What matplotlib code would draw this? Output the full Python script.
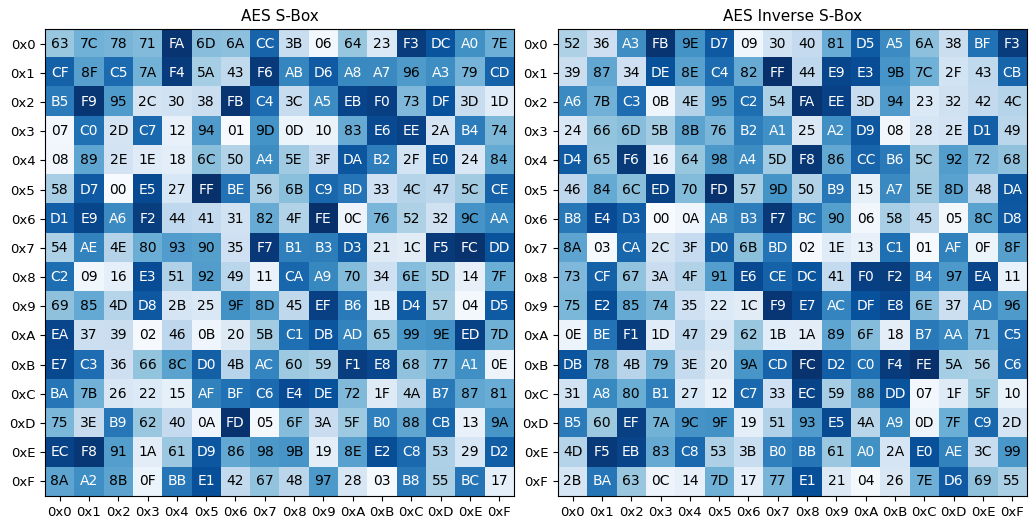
import numpy as np
import matplotlib.pyplot as plt

# substitution tables, one hex string per row
sbox_rows = [
    "63 7C 78 71 FA 6D 6A CC 3B 06 64 23 F3 DC A0 7E",
    "CF 8F C5 7A F4 5A 43 F6 AB D6 A8 A7 96 A3 79 CD",
    "B5 F9 95 2C 30 38 FB C4 3C A5 EB F0 73 DF 3D 1D",
    "07 C0 2D C7 12 94 01 9D 0D 10 83 E6 EE 2A B4 74",
    "08 89 2E 1E 18 6C 50 A4 5E 3F DA B2 2F E0 24 84",
    "58 D7 00 E5 27 FF BE 56 6B C9 BD 33 4C 47 5C CE",
    "D1 E9 A6 F2 44 41 31 82 4F FE 0C 76 52 32 9C AA",
    "54 AE 4E 80 93 90 35 F7 B1 B3 D3 21 1C F5 FC DD",
    "C2 09 16 E3 51 92 49 11 CA A9 70 34 6E 5D 14 7F",
    "69 85 4D D8 2B 25 9F 8D 45 EF B6 1B D4 57 04 D5",
    "EA 37 39 02 46 0B 20 5B C1 DB AD 65 99 9E ED 7D",
    "E7 C3 36 66 8C D0 4B AC 60 59 F1 E8 68 77 A1 0E",
    "BA 7B 26 22 15 AF BF C6 E4 DE 72 1F 4A B7 87 81",
    "75 3E B9 62 40 0A FD 05 6F 3A 5F B0 88 CB 13 9A",
    "EC F8 91 1A 61 D9 86 98 9B 19 8E E2 C8 53 29 D2",
    "8A A2 8B 0F BB E1 42 67 48 97 28 03 B8 55 BC 17",
]

inv_sbox_rows = [
    "52 36 A3 FB 9E D7 09 30 40 81 D5 A5 6A 38 BF F3",
    "39 87 34 DE 8E C4 82 FF 44 E9 E3 9B 7C 2F 43 CB",
    "A6 7B C3 0B 4E 95 C2 54 FA EE 3D 94 23 32 42 4C",
    "24 66 6D 5B 8B 76 B2 A1 25 A2 D9 08 28 2E D1 49",
    "D4 65 F6 16 64 98 A4 5D F8 86 CC B6 5C 92 72 68",
    "46 84 6C ED 70 FD 57 9D 50 B9 15 A7 5E 8D 48 DA",
    "B8 E4 D3 00 0A AB B3 F7 BC 90 06 58 45 05 8C D8",
    "8A 03 CA 2C 3F D0 6B BD 02 1E 13 C1 01 AF 0F 8F",
    "73 CF 67 3A 4F 91 E6 CE DC 41 F0 F2 B4 97 EA 11",
    "75 E2 85 74 35 22 1C F9 E7 AC DF E8 6E 37 AD 96",
    "0E BE F1 1D 47 29 62 1B 1A 89 6F 18 B7 AA 71 C5",
    "DB 78 4B 79 3E 20 9A CD FC D2 C0 F4 FE 5A 56 C6",
    "31 A8 80 B1 27 12 C7 33 EC 59 88 DD 07 1F 5F 10",
    "B5 60 EF 7A 9C 9F 19 51 93 E5 4A A9 0D 7F C9 2D",
    "4D F5 EB 83 C8 53 3B B0 BB 61 A0 2A E0 AE 3C 99",
    "2B BA 63 0C 14 7D 17 77 E1 21 04 26 7E D6 69 55",
]

tick_labels = [f"0x{i:X}" for i in range(16)]
titles = ["AES S-Box", "AES Inverse S-Box"]


def to_grid(rows):
    return np.array([[int(v, 16) for v in r.split()] for r in rows])


def draw_box(ax, grid, title):
    ax.imshow(grid, cmap="Blues", vmin=0, vmax=255, aspect="auto")
    for i in range(16):
        for j in range(16):
            v = grid[i, j]
            ax.text(j, i, f"{v:02X}", ha="center", va="center",
                    fontsize=10, color="white" if v >= 160 else "black")
    ax.set_xticks(range(16))
    ax.set_yticks(range(16))
    ax.set_xticklabels(tick_labels)
    ax.set_yticklabels(tick_labels)
    ax.tick_params(labelsize=9.5)
    ax.set_title(title, fontsize=11)


fig, axes = plt.subplots(1, 2, figsize=(10.32, 5.17), dpi=100)
for ax, rows, title in zip(axes, [sbox_rows, inv_sbox_rows], titles):
    draw_box(ax, to_grid(rows), title)

fig.subplots_adjust(left=0.0436, right=0.995, bottom=0.0406, top=0.944, wspace=0.094)
plt.savefig("out.png")
